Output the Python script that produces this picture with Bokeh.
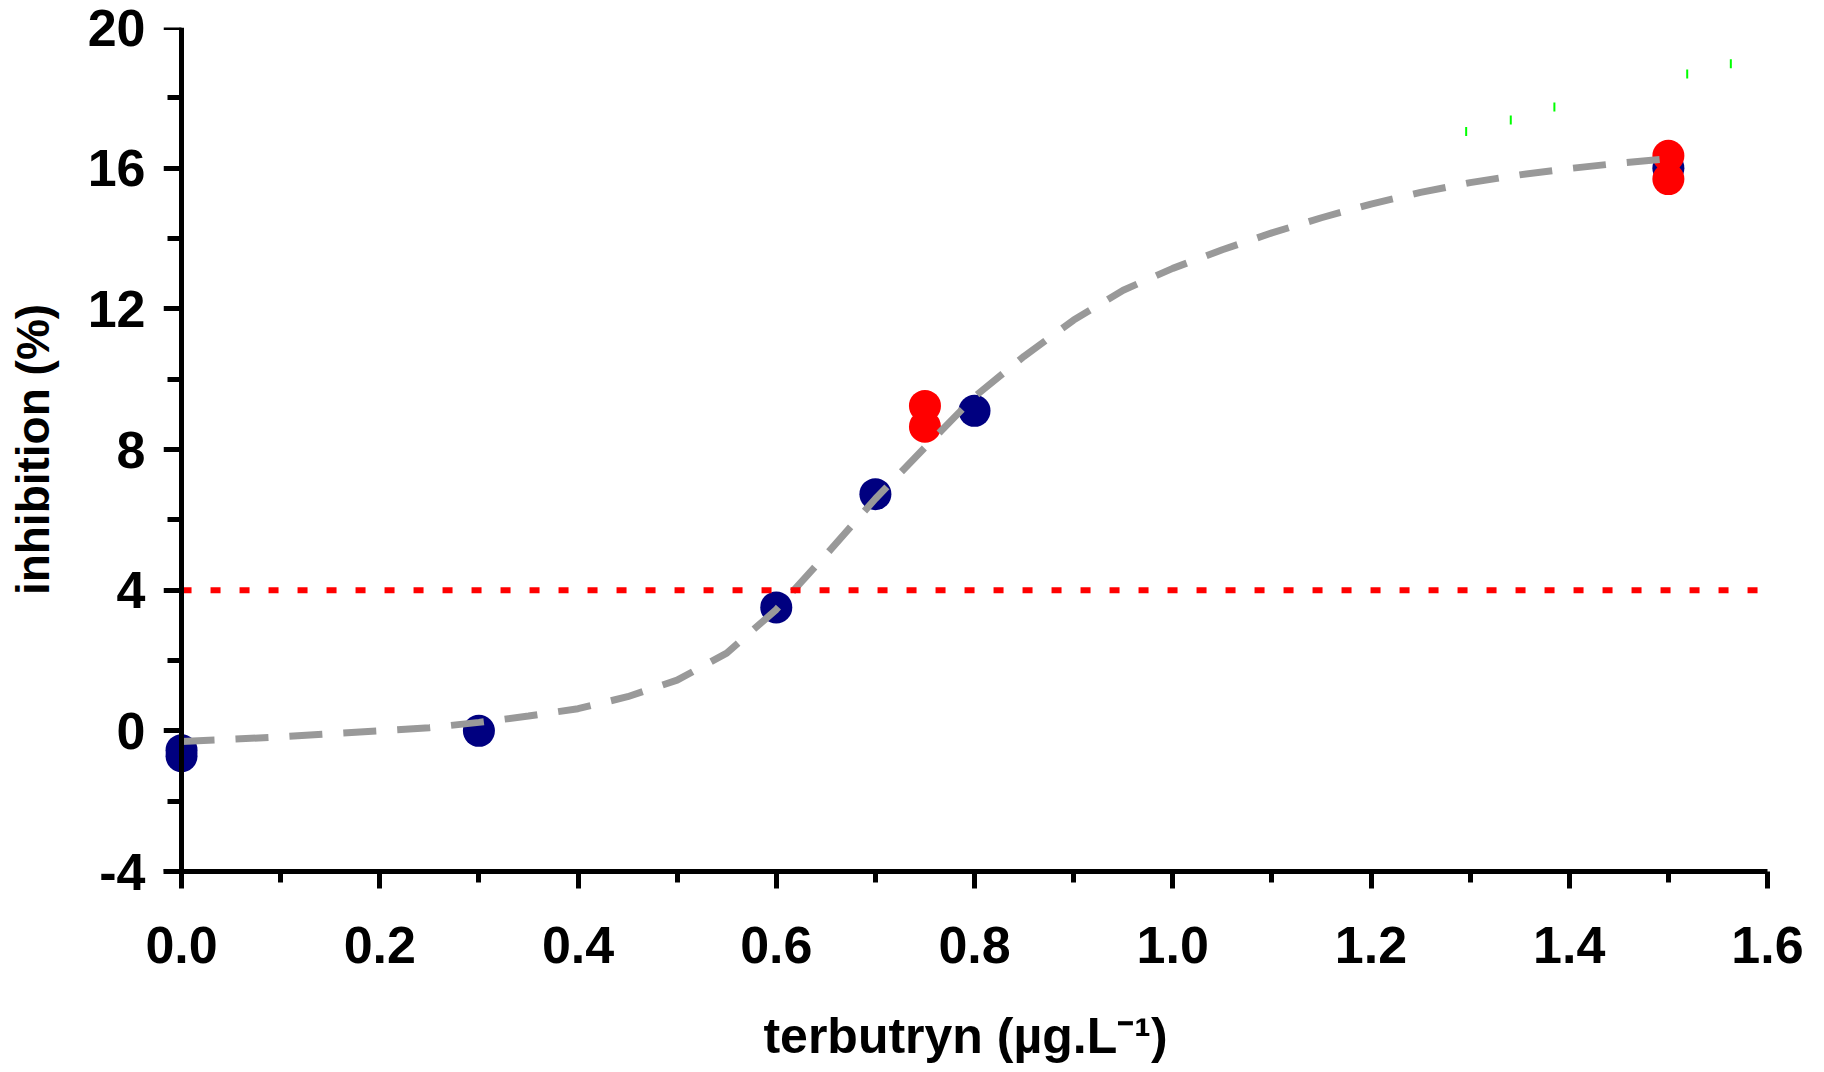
from bokeh.plotting import figure
from bokeh.models import Range1d, FixedTicker, LinearAxis
from bokeh.embed import file_html
from bokeh.resources import INLINE

# ---- data ----
blue_x = [0.0, 0.0, 0.3, 0.6, 0.7, 0.8, 1.5]
blue_y = [-0.55, -0.72, 0.0, 3.51, 6.73, 9.10, 16.0]

red_x = [0.75, 0.75, 1.5, 1.5]
red_y = [9.24, 8.65, 16.35, 15.69]

curve_x = [0.0, 0.05, 0.1, 0.15, 0.2, 0.25, 0.3, 0.35, 0.4, 0.45, 0.5, 0.55,
           0.6, 0.65, 0.7, 0.75, 0.8, 0.85, 0.9, 0.95, 1.0, 1.05, 1.1, 1.15,
           1.2, 1.25, 1.3, 1.35, 1.4, 1.45, 1.5]
curve_y = [-0.30, -0.24, -0.17, -0.08, 0.0, 0.09, 0.24, 0.42, 0.63, 0.97, 1.44, 2.21,
           3.45, 5.0, 6.6, 8.06, 9.5, 10.65, 11.68, 12.53, 13.15, 13.68, 14.16, 14.59,
           14.98, 15.31, 15.59, 15.81, 15.99, 16.14, 16.27]

threshold_x = [0.0, 1.6]
threshold_y = [4.0, 4.0]

green_x = [1.296, 1.341, 1.385, 1.519, 1.563]
green_y = [17.04, 17.37, 17.74, 18.68, 18.97]

x_ticks = [0.0, 0.2, 0.4, 0.6, 0.8, 1.0, 1.2, 1.4, 1.6]
x_tick_labels = ["0.0", "0.2", "0.4", "0.6", "0.8", "1.0", "1.2", "1.4", "1.6"]
x_minor = [0.1, 0.3, 0.5, 0.7, 0.9, 1.1, 1.3, 1.5]
y_ticks = [-4, 0, 4, 8, 12, 16, 20]
y_tick_labels = ["-4", "0", "4", "8", "12", "16", "20"]
y_minor = [-2, 2, 6, 10, 14, 18]

FONT = "Liberation Sans"

# frame starts slightly left of x=0 so that the markers at x=0 show in full;
# the visible y axis line/ticks are pinned at x=0
p = figure(width=1824, height=1072, output_backend="svg", toolbar_location=None,
           x_range=Range1d(-0.0182, 1.6), y_range=Range1d(-4, 20),
           min_border_left=163, min_border_right=57, min_border_top=27,
           min_border_bottom=201)
p.outline_line_color = None
p.xgrid.visible = False
p.ygrid.visible = False
p.background_fill_color = "white"
p.border_fill_color = "white"

p.scatter(blue_x, blue_y, size=32, fill_color="#000080", line_color=None)
p.scatter(red_x, red_y, size=32, fill_color="#FF0000", line_color=None)
p.line(curve_x, curve_y, line_color="#999999", line_width=7, line_dash="33 21")
p.line(threshold_x, threshold_y, line_color="#FF0000", line_width=6, line_dash="10 19")
p.scatter(green_x, green_y, marker="dash", size=9, angle=90, angle_units="deg",
          line_color="#00FF00", line_width=2)

# x axis
xa = p.xaxis[0]
xa.axis_line_width = 5
xa.axis_line_color = "black"
xa.major_tick_line_width = 5
xa.minor_tick_line_width = 5
xa.major_tick_in = 0
xa.minor_tick_in = 0
xa.major_tick_out = 17
xa.minor_tick_out = 11
xa.ticker = FixedTicker(ticks=x_ticks, minor_ticks=x_minor)
xa.major_label_overrides = {t: l for t, l in zip(x_ticks, x_tick_labels)}
xa.major_label_text_font = FONT
xa.major_label_text_font_style = "bold"
xa.major_label_text_font_size = "52px"
xa.major_label_text_color = "black"
xa.major_label_standoff = 38
xa.axis_label = "terbutryn (µg.L⁻¹)"
xa.axis_label_text_font = FONT
xa.axis_label_text_font_style = "bold"
xa.axis_label_text_font_size = "50px"
xa.axis_label_text_color = "black"
xa.axis_label_standoff = 42

# y axis: labels from the frame-edge axis, line and ticks from an axis pinned at x=0
ya = p.yaxis[0]
ya.axis_line_color = None
ya.major_tick_line_color = None
ya.minor_tick_line_color = None
ya.major_tick_out = 0
ya.minor_tick_out = 0
ya.major_tick_in = 0
ya.minor_tick_in = 0
ya.ticker = FixedTicker(ticks=y_ticks, minor_ticks=y_minor)
ya.major_label_overrides = {t: l for t, l in zip(y_ticks, y_tick_labels)}
ya.major_label_text_font = FONT
ya.major_label_text_font_style = "bold"
ya.major_label_text_font_size = "52px"
ya.major_label_text_color = "black"
ya.major_label_standoff = 18
ya.axis_label = "inhibition (%)"
ya.axis_label_text_font = FONT
ya.axis_label_text_font_style = "bold"
ya.axis_label_text_font_size = "46px"
ya.axis_label_text_color = "black"
ya.axis_label_standoff = 26

yline = LinearAxis(fixed_location=0,
                   ticker=FixedTicker(ticks=y_ticks, minor_ticks=y_minor),
                   axis_line_width=5, axis_line_color="black",
                   major_tick_line_width=5, minor_tick_line_width=5,
                   major_tick_in=18, major_tick_out=0,
                   minor_tick_in=14, minor_tick_out=0,
                   major_label_text_font_size="10px",
                   major_label_text_color=None, major_label_text_alpha=0,
                   major_label_standoff=0)
p.add_layout(yline, "right")

open("out.html", "w").write(file_html(p, INLINE))
